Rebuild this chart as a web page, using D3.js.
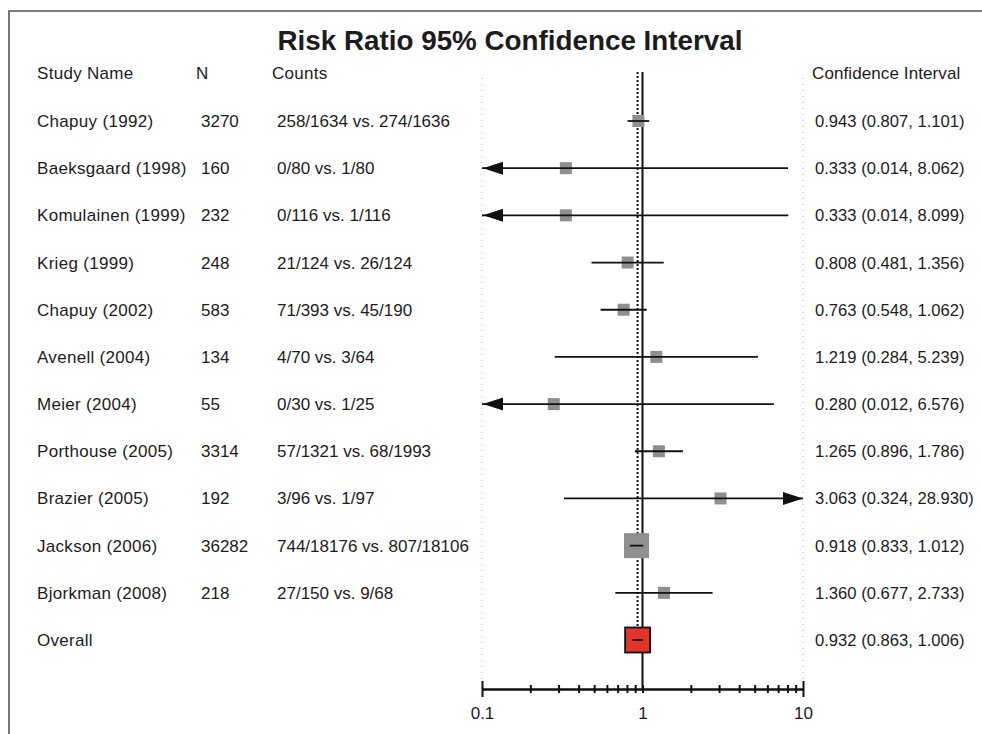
<!DOCTYPE html>
<html>
<head>
<meta charset="utf-8">
<script src="https://cdn.jsdelivr.net/npm/d3@7/dist/d3.min.js"></script>
<style>
  html, body { margin: 0; padding: 0; background: #fff; }
  svg { display: block; }
  text { font-family: "Liberation Sans", Arial, sans-serif; fill: #1c1c1c; }
</style>
</head>
<body>
<svg id="chart" width="982" height="734"></svg>
<script>
const title = "Risk Ratio 95% Confidence Interval";
const headers = ["Study Name", "N", "Counts", "Confidence Interval"];
const studies = ["Chapuy (1992)", "Baeksgaard (1998)", "Komulainen (1999)", "Krieg (1999)",
  "Chapuy (2002)", "Avenell (2004)", "Meier (2004)", "Porthouse (2005)", "Brazier (2005)",
  "Jackson (2006)", "Bjorkman (2008)", "Overall"];
const nTotal = [3270, 160, 232, 248, 583, 134, 55, 3314, 192, 36282, 218, null];
const counts = ["258/1634 vs. 274/1636", "0/80 vs. 1/80", "0/116 vs. 1/116", "21/124 vs. 26/124",
  "71/393 vs. 45/190", "4/70 vs. 3/64", "0/30 vs. 1/25", "57/1321 vs. 68/1993", "3/96 vs. 1/97",
  "744/18176 vs. 807/18106", "27/150 vs. 9/68", ""];
const rr    = [0.943, 0.333, 0.333, 0.808, 0.763, 1.219, 0.280, 1.265, 3.063, 0.918, 1.360, 0.932];
const lower = [0.807, 0.014, 0.014, 0.481, 0.548, 0.284, 0.012, 0.896, 0.324, 0.833, 0.677, 0.863];
const upper = [1.101, 8.062, 8.099, 1.356, 1.062, 5.239, 6.576, 1.786, 28.930, 1.012, 2.733, 1.006];
const axisTicks = [0.1, 0.2, 0.3, 0.4, 0.5, 0.6, 0.7, 0.8, 0.9, 1, 2, 3, 4, 5, 6, 7, 8, 9, 10];
const axisLabels = [0.1, 1, 10];

const svg = d3.select("#chart");
const domainMin = 0.1, domainMax = 10;
const x = d3.scaleLog().domain([domainMin, domainMax]).range([482, 803]);
const y = d3.scaleLinear().domain([0, studies.length - 1]).range([121, 640]);
const boxSize = d3.scaleLinear().domain([3500, 36282]).range([12, 25]).clamp(true);
const axisY = 689;
const fmt = d3.format(".3f");
const last = studies.length - 1;
const FS = 17;

// frame
svg.append("path").attr("d", "M9,734 L9,11 L982,11")
  .attr("fill", "none").attr("stroke", "#555").attr("stroke-width", 1.6);

// title
svg.append("text").attr("x", 510).attr("y", 50).attr("text-anchor", "middle")
  .attr("font-size", 27.8).attr("font-weight", "bold").attr("fill", "#111").text(title);

// headers
const hdrY = 79;
const colX = [37, 196, 272, 812];
headers.forEach((h, i) => {
  svg.append("text").attr("x", colX[i]).attr("y", hdrY).attr("font-size", FS)
    .attr("letter-spacing", i === 3 ? 0.1 : 0.3).text(h);
});

// light dotted boundary lines
[domainMin, domainMax].forEach(v => {
  svg.append("line").attr("x1", x(v)).attr("x2", x(v)).attr("y1", 78).attr("y2", 680)
    .attr("stroke", "#bbb").attr("stroke-width", 1.2).attr("stroke-dasharray", "1,5");
});

// reference line at 1
svg.append("line").attr("x1", x(1)).attr("x2", x(1)).attr("y1", 72).attr("y2", axisY)
  .attr("stroke", "#111").attr("stroke-width", 2);
// dotted line at overall estimate
svg.append("line").attr("x1", x(rr[last])).attr("x2", x(rr[last])).attr("y1", 72)
  .attr("y2", y(last) - boxSize(36282) / 2)
  .attr("stroke", "#111").attr("stroke-width", 2).attr("stroke-dasharray", "2,2");

// rows
const rows = svg.append("g").selectAll("g").data(studies).join("g")
  .attr("transform", (d, i) => `translate(0,${y(i)})`);

rows.append("text").attr("x", 37).attr("y", 6).attr("font-size", FS)
  .attr("letter-spacing", 0.3).text(d => d);
rows.append("text").attr("x", 201).attr("y", 6).attr("font-size", FS)
  .text((d, i) => nTotal[i] == null ? "" : nTotal[i]);
rows.append("text").attr("x", 277).attr("y", 6).attr("font-size", FS)
  .text((d, i) => counts[i]);
rows.append("text").attr("x", 815).attr("y", 6).attr("font-size", 16.6)
  .text((d, i) => `${fmt(rr[i])} (${fmt(lower[i])}, ${fmt(upper[i])})`);

// boxes
const sizeOf = i => i === last ? boxSize(36282) : boxSize(nTotal[i]);
rows.append("rect")
  .attr("x", (d, i) => x(rr[i]) - sizeOf(i) / 2)
  .attr("y", (d, i) => -sizeOf(i) / 2)
  .attr("width", (d, i) => sizeOf(i))
  .attr("height", (d, i) => sizeOf(i))
  .attr("fill", (d, i) => i === last ? "#e3342b" : "#8f8f8f")
  .attr("stroke", (d, i) => i === last ? "#111" : "none")
  .attr("stroke-width", 1.8);

// CI lines
rows.append("line")
  .attr("x1", (d, i) => x(Math.max(lower[i], domainMin)))
  .attr("x2", (d, i) => x(Math.min(upper[i], domainMax)))
  .attr("y1", 0).attr("y2", 0)
  .attr("stroke", "#111").attr("stroke-width", 1.8);

// arrows for clipped intervals
rows.filter((d, i) => lower[i] < domainMin).append("path")
  .attr("d", `M${x(domainMin) + 1},0 L${x(domainMin) + 21},-6.5 L${x(domainMin) + 21},6.5 Z`)
  .attr("fill", "#111");
rows.filter((d, i) => upper[i] > domainMax).append("path")
  .attr("d", `M${x(domainMax)},0 L${x(domainMax) - 20},-6.5 L${x(domainMax) - 20},6.5 Z`)
  .attr("fill", "#111");

// axis
const axB = svg.append("g").attr("transform", `translate(0,${axisY})`)
  .call(d3.axisBottom(x).tickValues(axisTicks).tickSizeInner(4).tickSizeOuter(0)
    .tickFormat(v => axisLabels.includes(v) ? String(v) : ""));
const axT = svg.append("g").attr("transform", `translate(0,${axisY})`)
  .call(d3.axisTop(x).tickValues(axisTicks).tickSizeInner(4).tickSizeOuter(0).tickFormat(""));
[axB, axT].forEach(g => {
  g.select(".domain").attr("stroke", "#111").attr("stroke-width", 2);
  g.selectAll(".tick line").attr("stroke", "#111").attr("stroke-width", 2);
});
axB.selectAll(".tick line").filter(v => v === domainMin || v === domainMax).attr("y2", 8);
axT.selectAll(".tick line").filter(v => v === domainMin || v === domainMax).attr("y2", -8);
axB.selectAll(".tick text").attr("y", 30).attr("dy", 0)
  .attr("font-size", FS).attr("fill", "#1c1c1c")
  .attr("font-family", '"Liberation Sans", Arial, sans-serif');
</script>
</body>
</html>
